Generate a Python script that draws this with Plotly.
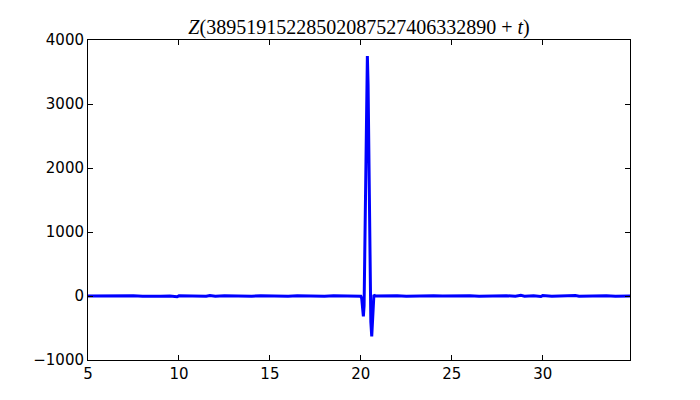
import plotly.graph_objects as go

# samples of the curve
t_before = [5.0, 5.5, 6.0, 6.5, 7.0, 7.5, 8.0, 8.5, 9.0, 9.5, 9.9, 10.0, 10.5,
            11.0, 11.5, 11.7, 12.0, 12.5, 13.0, 13.5, 14.0, 14.5, 15.0, 15.5,
            16.0, 16.5, 17.0, 17.5, 18.0, 18.5, 19.0, 19.5, 19.9]
z_before = [0, 2, -2, 3, -1, 2, -3, 3, -2, 1, -12, 2, -2,
            3, -3, 8, -2, 3, -2, 2, -3, 2, -1, 3, -2, 2, -3, 2, -2, 3, -1, 2, 0]

t_spike = [20.0, 20.05, 20.1, 20.14, 20.18, 20.22, 20.27, 20.32, 20.36, 20.4,
           20.45, 20.5, 20.55, 20.6, 20.64, 20.68, 20.72, 20.78]
z_spike = [-5, -40, -190, -320, -150, 800, 2500, 3600, 3750, 3300,
           1800, 400, -400, -630, -400, -50, 20, 0]

t_after = [21.0, 21.5, 22.0, 22.5, 23.0, 23.5, 24.0, 24.5, 25.0, 25.5, 26.0,
           26.5, 27.0, 27.5, 28.0, 28.5, 28.8, 29.0, 29.5, 29.9, 30.0, 30.5,
           31.0, 31.5, 31.8, 32.0, 32.5, 33.0, 33.5, 34.0, 34.5, 34.8]
z_after = [2, -2, 3, -2, 2, -3, 2, -1, 3, -2, 3, -2, 2, -3, 4, -2, 10, -2, 3,
           -8, 7, -2, 2, -3, 8, -2, 2, -1, 2, -2, 1, 0]

t = t_before + t_spike + t_after
z = z_before + z_spike + z_after

x_ticks = [5, 10, 15, 20, 25, 30]
y_ticks = [-1000, 0, 1000, 2000, 3000, 4000]

fig = go.Figure(go.Scatter(x=t, y=z, mode='lines',
                           line=dict(color='#0000ff', width=3),
                           hoverinfo='x+y'))

axis = dict(showgrid=False, zeroline=False, showline=True, linecolor='black',
            linewidth=1, mirror='ticks', ticks='inside', ticklen=5,
            tickcolor='black', tickfont=dict(family='DejaVu Sans', size=15,
                                             color='black'))
fig.update_xaxes(range=[5, 34.8], tickvals=x_ticks, **axis)
fig.update_yaxes(range=[-1000, 4000], tickvals=y_ticks, **axis)

# the page body adds an 8px margin, so margins are reduced to compensate
fig.update_layout(
    width=700, height=400,
    margin=dict(l=80, r=78, t=32, b=48),
    plot_bgcolor='white', paper_bgcolor='white',
    showlegend=False,
    title=dict(text='<i>Z</i>(38951915228502087527406332890 + <i>t</i>)',
               font=dict(family='Liberation Serif', size=20, color='black'),
               x=0.5, xref='paper', y=1 - 19 / 400, yref='container',
               yanchor='middle'),
)

fig.write_html("out.html")
